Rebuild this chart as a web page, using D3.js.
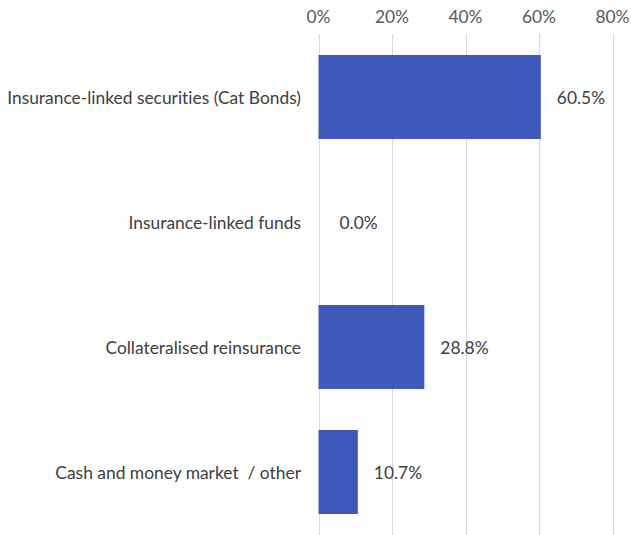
<!DOCTYPE html>
<html><head><meta charset="utf-8">
<script src="https://cdn.jsdelivr.net/npm/d3@7"></script>
<style>body{margin:0;background:#fff;}svg{display:block;}text{font-variant-ligatures:none;font-feature-settings:"liga" 0;}</style>
</head><body>
<svg id="chart" width="631" height="535"></svg>
<script>
const categories = ["Insurance-linked securities (Cat Bonds)", "Insurance-linked funds", "Collateralised reinsurance", "Cash and money market  / other"];
const values = [60.5, 0.0, 28.8, 10.7];
const tickValues = [0, 20, 40, 60, 80];

const svg = d3.select("#chart");
const font = "Lato, 'Open Sans', sans-serif";
const fs = 17.4;
const x = d3.scaleLinear().domain([0, 80]).range([318.5, 612.5]);
const y = d3.scaleBand().domain(categories).range([34.5, 534.5]).paddingInner(0.328).paddingOuter(0.164);

// gridlines
svg.append("g").selectAll("line").data(tickValues).join("line")
  .attr("x1", d => Math.round(x(d)) + 0.5).attr("x2", d => Math.round(x(d)) + 0.5)
  .attr("y1", 34).attr("y2", 535)
  .attr("stroke", "#d9d9d9").attr("stroke-width", 1);

// top axis labels
svg.append("g").selectAll("text").data(tickValues).join("text")
  .attr("x", d => x(d)).attr("y", 23)
  .attr("text-anchor", "middle")
  .attr("font-family", font).attr("font-size", fs).attr("fill", "#595959")
  .text(d => d + "%");

// bars
svg.append("g").selectAll("rect").data(values).join("rect")
  .attr("x", x(0)).attr("y", (d, i) => y(categories[i]))
  .attr("width", d => x(d) - x(0)).attr("height", y.bandwidth())
  .attr("fill", "#3d59bd");

// category labels
svg.append("g").selectAll("text").data(categories).join("text")
  .attr("x", 301).attr("y", d => y(d) + y.bandwidth() / 2)
  .attr("dy", "0.38em").attr("text-anchor", "end")
  .attr("font-family", font).attr("font-size", fs).attr("fill", "#404040")
  .attr("xml:space", "preserve").style("white-space", "pre")
  .text(d => d);

// value labels
svg.append("g").selectAll("text").data(values).join("text")
  .attr("x", d => x(d) + (d === 0 ? 21 : 16)).attr("y", (d, i) => y(categories[i]) + y.bandwidth() / 2)
  .attr("dy", "0.4em")
  .attr("font-family", font).attr("font-size", fs).attr("fill", "#404040")
  .text(d => d.toFixed(1) + "%");
</script>
</body></html>
